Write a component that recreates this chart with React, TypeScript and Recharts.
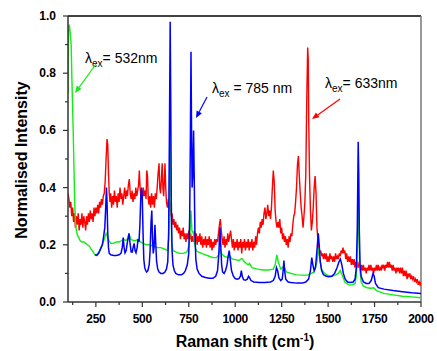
import { LineChart, Line, XAxis, YAxis, ReferenceLine } from 'recharts';

type Pt = [number, number];

// Raman shift (cm-1), intensity
const shiftTicks = [125, 250, 375, 500, 625, 750, 875, 1000, 1125, 1250, 1375, 1500, 1625, 1750, 1875, 2000];
const intensityTicks = [0, 0.1, 0.2, 0.3, 0.4, 0.5, 0.6, 0.7, 0.8, 0.9, 1.0];

const red633: Pt[] = [
  [100, 0.38], [105, 0.36], [110, 0.33], [115, 0.35], [120, 0.3], [125, 0.33], [130, 0.28], [135, 0.31],
  [140, 0.26], [145, 0.3], [150, 0.27], [155, 0.31], [160, 0.25], [165, 0.29], [170, 0.27], [175, 0.31],
  [180, 0.26], [185, 0.3], [190, 0.28], [195, 0.25], [200, 0.3], [205, 0.27], [210, 0.31], [215, 0.28],
  [220, 0.32], [225, 0.29], [230, 0.31], [235, 0.28], [240, 0.33], [245, 0.3], [250, 0.33], [255, 0.31],
  [260, 0.34], [265, 0.31], [270, 0.35], [275, 0.33], [280, 0.36], [285, 0.34], [290, 0.37], [295, 0.38],
  [300, 0.42], [305, 0.5], [310, 0.57], [314, 0.55], [318, 0.45], [322, 0.38], [326, 0.35], [330, 0.38],
  [335, 0.33], [340, 0.37], [345, 0.34], [350, 0.39], [355, 0.35], [360, 0.37], [365, 0.33], [370, 0.38],
  [375, 0.35], [380, 0.4], [385, 0.36], [390, 0.38], [395, 0.34], [400, 0.37], [405, 0.4], [410, 0.36],
  [415, 0.39], [420, 0.37], [425, 0.41], [430, 0.43], [435, 0.38], [440, 0.36], [445, 0.39], [450, 0.35],
  [455, 0.38], [460, 0.36], [465, 0.4], [470, 0.37], [475, 0.39], [480, 0.41], [484, 0.46], [488, 0.4],
  [492, 0.37], [496, 0.39], [500, 0.36], [505, 0.4], [510, 0.37], [515, 0.39], [520, 0.36], [524, 0.46],
  [528, 0.44], [532, 0.36], [536, 0.34], [540, 0.37], [545, 0.33], [550, 0.38], [555, 0.34], [560, 0.37],
  [565, 0.33], [570, 0.38], [575, 0.36], [580, 0.4], [585, 0.45], [590, 0.485], [594, 0.4], [598, 0.38],
  [602, 0.42], [607, 0.485], [611, 0.4], [615, 0.37], [619, 0.43], [622, 0.485], [626, 0.4], [630, 0.35],
  [635, 0.33], [640, 0.36], [645, 0.32], [650, 0.35], [655, 0.3], [660, 0.31], [665, 0.27], [670, 0.29],
  [675, 0.26], [680, 0.28], [685, 0.25], [690, 0.27], [695, 0.24], [700, 0.26], [705, 0.22], [710, 0.25],
  [715, 0.23], [720, 0.26], [725, 0.22], [730, 0.24], [735, 0.21], [740, 0.24], [745, 0.22], [750, 0.25],
  [755, 0.22], [760, 0.24], [765, 0.21], [770, 0.23], [775, 0.21], [780, 0.25], [785, 0.21], [790, 0.24],
  [795, 0.2], [800, 0.23], [805, 0.21], [810, 0.24], [815, 0.2], [820, 0.23], [825, 0.19], [830, 0.22],
  [835, 0.2], [840, 0.23], [845, 0.19], [850, 0.22], [855, 0.2], [860, 0.23], [865, 0.19], [870, 0.22],
  [875, 0.18], [880, 0.21], [885, 0.19], [890, 0.22], [895, 0.2], [900, 0.22], [905, 0.21], [910, 0.24],
  [915, 0.27], [920, 0.29], [925, 0.25], [930, 0.22], [935, 0.2], [940, 0.23], [945, 0.19], [950, 0.22],
  [955, 0.2], [960, 0.24], [965, 0.21], [970, 0.23], [975, 0.25], [980, 0.22], [985, 0.19], [990, 0.22],
  [995, 0.18], [1000, 0.21], [1005, 0.19], [1010, 0.22], [1015, 0.18], [1020, 0.21], [1025, 0.19], [1030, 0.22],
  [1035, 0.17], [1040, 0.21], [1045, 0.19], [1050, 0.22], [1055, 0.18], [1060, 0.21], [1065, 0.19], [1070, 0.22],
  [1075, 0.18], [1080, 0.21], [1085, 0.19], [1090, 0.22], [1095, 0.18], [1100, 0.21], [1105, 0.19], [1110, 0.23],
  [1115, 0.2], [1120, 0.24], [1125, 0.26], [1130, 0.24], [1135, 0.28], [1140, 0.26], [1145, 0.29], [1150, 0.27],
  [1155, 0.31], [1160, 0.33], [1165, 0.29], [1170, 0.31], [1175, 0.34], [1180, 0.3], [1185, 0.32], [1190, 0.29],
  [1195, 0.33], [1200, 0.4], [1205, 0.46], [1210, 0.42], [1215, 0.32], [1220, 0.28], [1225, 0.26], [1230, 0.28],
  [1235, 0.26], [1240, 0.29], [1245, 0.24], [1250, 0.26], [1255, 0.22], [1260, 0.24], [1265, 0.21], [1270, 0.23],
  [1275, 0.2], [1280, 0.22], [1285, 0.19], [1290, 0.23], [1295, 0.21], [1300, 0.24], [1305, 0.23], [1310, 0.27],
  [1315, 0.3], [1320, 0.31], [1325, 0.35], [1330, 0.4], [1335, 0.48], [1340, 0.51], [1345, 0.44], [1350, 0.38],
  [1355, 0.33], [1360, 0.3], [1365, 0.26], [1370, 0.3], [1375, 0.35], [1380, 0.45], [1385, 0.7], [1390, 0.89],
  [1393, 0.85], [1396, 0.62], [1400, 0.44], [1405, 0.32], [1410, 0.25], [1415, 0.28], [1420, 0.33], [1425, 0.4],
  [1430, 0.44], [1435, 0.38], [1440, 0.26], [1445, 0.22], [1450, 0.19], [1455, 0.17], [1460, 0.18], [1465, 0.16],
  [1470, 0.17], [1475, 0.15], [1480, 0.17], [1485, 0.15], [1490, 0.17], [1495, 0.14], [1500, 0.16], [1505, 0.14],
  [1510, 0.17], [1515, 0.15], [1520, 0.16], [1525, 0.14], [1530, 0.16], [1535, 0.14], [1540, 0.17], [1545, 0.15],
  [1550, 0.16], [1555, 0.15], [1560, 0.17], [1565, 0.16], [1570, 0.18], [1575, 0.17], [1580, 0.19], [1585, 0.17],
  [1590, 0.18], [1595, 0.15], [1600, 0.17], [1605, 0.14], [1610, 0.16], [1615, 0.14], [1620, 0.16], [1625, 0.13],
  [1630, 0.15], [1635, 0.13], [1640, 0.15], [1645, 0.12], [1650, 0.14], [1655, 0.12], [1660, 0.14], [1665, 0.12],
  [1670, 0.13], [1675, 0.11], [1680, 0.13], [1685, 0.11], [1690, 0.13], [1695, 0.11], [1700, 0.12], [1705, 0.1],
  [1710, 0.12], [1715, 0.11], [1720, 0.13], [1725, 0.11], [1730, 0.13], [1735, 0.11], [1740, 0.12], [1745, 0.1],
  [1750, 0.12], [1755, 0.11], [1760, 0.13], [1765, 0.11], [1770, 0.13], [1775, 0.11], [1780, 0.12], [1785, 0.11],
  [1790, 0.13], [1795, 0.12], [1800, 0.13], [1805, 0.11], [1810, 0.13], [1815, 0.12], [1820, 0.14], [1825, 0.12],
  [1830, 0.14], [1835, 0.12], [1840, 0.13], [1845, 0.11], [1850, 0.13], [1855, 0.11], [1860, 0.12], [1865, 0.1],
  [1870, 0.12], [1875, 0.11], [1880, 0.12], [1885, 0.1], [1890, 0.12], [1895, 0.1], [1900, 0.12], [1905, 0.09],
  [1910, 0.11], [1915, 0.09], [1920, 0.11], [1925, 0.08], [1930, 0.1], [1935, 0.09], [1940, 0.1], [1945, 0.08],
  [1950, 0.09], [1955, 0.08], [1960, 0.09], [1965, 0.07], [1970, 0.08], [1975, 0.07], [1980, 0.08], [1985, 0.06],
  [1990, 0.07], [1995, 0.06], [2000, 0.07],
];

const blue785: Pt[] = [
  [245, 0.165], [255, 0.163], [265, 0.17], [275, 0.185], [285, 0.2], [292, 0.23], [298, 0.26], [303, 0.33],
  [307, 0.4], [310, 0.35], [314, 0.24], [318, 0.19], [322, 0.17], [330, 0.165], [345, 0.163], [360, 0.163],
  [375, 0.165], [385, 0.17], [392, 0.19], [397, 0.225], [402, 0.19], [407, 0.172], [413, 0.18], [420, 0.21],
  [428, 0.24], [433, 0.21], [440, 0.175], [446, 0.175], [452, 0.195], [456, 0.205], [461, 0.18], [466, 0.172],
  [472, 0.19], [477, 0.22], [482, 0.21], [487, 0.27], [492, 0.37], [496, 0.4], [500, 0.36], [504, 0.24],
  [508, 0.15], [513, 0.12], [518, 0.11], [523, 0.105], [530, 0.11], [537, 0.13], [542, 0.18], [547, 0.28],
  [551, 0.32], [555, 0.22], [559, 0.17], [563, 0.19], [568, 0.27], [572, 0.21], [577, 0.14], [583, 0.115],
  [590, 0.105], [600, 0.1], [612, 0.1], [622, 0.105], [630, 0.115], [637, 0.14], [642, 0.25], [646, 0.6],
  [650, 0.98], [653, 0.7], [656, 0.35], [660, 0.18], [665, 0.13], [672, 0.11], [680, 0.1], [695, 0.095],
  [710, 0.095], [722, 0.1], [732, 0.11], [742, 0.13], [750, 0.17], [755, 0.3], [759, 0.6], [762, 0.875],
  [765, 0.6], [768, 0.4], [772, 0.45], [776, 0.6], [779, 0.45], [783, 0.25], [788, 0.15], [795, 0.115],
  [805, 0.1], [820, 0.09], [840, 0.086], [860, 0.083], [880, 0.083], [895, 0.09], [905, 0.11], [912, 0.17],
  [918, 0.26], [922, 0.2], [927, 0.13], [932, 0.105], [940, 0.1], [948, 0.11], [956, 0.13], [962, 0.16],
  [968, 0.18], [973, 0.15], [980, 0.11], [990, 0.09], [1000, 0.082], [1010, 0.08], [1020, 0.082], [1028, 0.09],
  [1033, 0.11], [1038, 0.09], [1045, 0.078], [1055, 0.076], [1065, 0.08], [1072, 0.09], [1077, 0.085], [1085, 0.075],
  [1100, 0.07], [1130, 0.068], [1160, 0.068], [1190, 0.07], [1205, 0.075], [1215, 0.09], [1222, 0.12], [1228, 0.11],
  [1235, 0.085], [1245, 0.075], [1253, 0.08], [1258, 0.11], [1262, 0.145], [1266, 0.11], [1272, 0.08], [1285, 0.07],
  [1300, 0.068], [1330, 0.066], [1360, 0.066], [1380, 0.07], [1395, 0.08], [1405, 0.11], [1412, 0.155], [1418, 0.13],
  [1425, 0.11], [1432, 0.12], [1440, 0.18], [1447, 0.24], [1452, 0.2], [1458, 0.14], [1465, 0.11], [1475, 0.095],
  [1490, 0.09], [1505, 0.088], [1520, 0.09], [1535, 0.1], [1548, 0.12], [1558, 0.14], [1566, 0.15], [1574, 0.13],
  [1582, 0.1], [1592, 0.08], [1605, 0.07], [1620, 0.068], [1635, 0.07], [1645, 0.08], [1652, 0.12], [1657, 0.25],
  [1662, 0.56], [1665, 0.45], [1668, 0.25], [1672, 0.13], [1678, 0.09], [1690, 0.07], [1705, 0.065], [1720, 0.065],
  [1732, 0.075], [1742, 0.1], [1748, 0.09], [1755, 0.065], [1770, 0.05], [1800, 0.045], [1850, 0.04], [1900, 0.036],
  [1950, 0.032], [2000, 0.03],
];

const green532: Pt[] = [
  [100, 0.73], [103, 0.96], [107, 0.97], [112, 0.94], [117, 0.9], [121, 0.78], [124, 0.7], [128, 0.6],
  [132, 0.47], [136, 0.35], [140, 0.28], [145, 0.25], [150, 0.235], [158, 0.225], [165, 0.215], [175, 0.21],
  [185, 0.21], [195, 0.205], [205, 0.2], [215, 0.195], [225, 0.185], [235, 0.175], [245, 0.165], [252, 0.163],
  [260, 0.17], [270, 0.18], [280, 0.195], [290, 0.21], [298, 0.225], [305, 0.24], [312, 0.23], [320, 0.215],
  [330, 0.205], [345, 0.205], [360, 0.21], [375, 0.21], [390, 0.215], [400, 0.22], [410, 0.215], [420, 0.22],
  [430, 0.235], [438, 0.22], [450, 0.215], [465, 0.215], [478, 0.22], [490, 0.21], [505, 0.205], [520, 0.2],
  [540, 0.2], [560, 0.195], [580, 0.19], [600, 0.19], [620, 0.185], [635, 0.18], [642, 0.22], [646, 0.4],
  [650, 0.57], [654, 0.35], [658, 0.21], [665, 0.18], [680, 0.175], [700, 0.17], [720, 0.17], [740, 0.175],
  [752, 0.2], [758, 0.26], [762, 0.32], [767, 0.25], [775, 0.24], [782, 0.2], [790, 0.18], [800, 0.175],
  [820, 0.17], [840, 0.165], [860, 0.16], [880, 0.155], [900, 0.155], [910, 0.165], [918, 0.185], [925, 0.17],
  [940, 0.16], [960, 0.155], [972, 0.16], [985, 0.15], [1000, 0.148], [1020, 0.145], [1036, 0.152], [1050, 0.14],
  [1070, 0.13], [1077, 0.135], [1090, 0.12], [1120, 0.115], [1150, 0.112], [1180, 0.112], [1205, 0.115], [1215, 0.13],
  [1224, 0.165], [1232, 0.14], [1245, 0.115], [1262, 0.125], [1275, 0.105], [1300, 0.1], [1330, 0.095], [1360, 0.094],
  [1390, 0.094], [1410, 0.1], [1425, 0.105], [1440, 0.14], [1447, 0.19], [1455, 0.15], [1465, 0.115], [1480, 0.1],
  [1500, 0.092], [1520, 0.09], [1540, 0.095], [1555, 0.1], [1565, 0.11], [1575, 0.095], [1590, 0.07], [1610, 0.06],
  [1630, 0.06], [1645, 0.065], [1652, 0.09], [1657, 0.18], [1662, 0.35], [1666, 0.25], [1670, 0.12], [1678, 0.07],
  [1690, 0.055], [1710, 0.05], [1730, 0.048], [1745, 0.05], [1760, 0.04], [1800, 0.03], [1850, 0.025], [1900, 0.02],
  [1950, 0.018], [2000, 0.015],
];

const toRows = (pts: Pt[]) => pts.map(([x, y]) => ({ x, y }));

const FONT = 'Arial, "Liberation Sans", sans-serif';
const AXIS = '#333';

const XTick = (props: any) => {
  const { x, y, payload } = props;
  const major = payload.value % 250 === 0;
  return (
    <g>
      <line x1={x} x2={x} y1={y} y2={y + (major ? 5 : 3)} stroke={AXIS} strokeWidth={1.2} />
      {major && (
        <text x={x} y={y + 21} textAnchor="middle" fontSize={12} fontWeight="bold" fontFamily={FONT} fill="#000" letterSpacing={-0.3}>
          {payload.value}
        </text>
      )}
    </g>
  );
};

const YTick = (props: any) => {
  const { x, y, payload } = props;
  const major = Math.round(payload.value * 10) % 2 === 0;
  return (
    <g>
      <line x1={x} x2={x - (major ? 5 : 3)} y1={y} y2={y} stroke={AXIS} strokeWidth={1.2} />
      {major && (
        <text x={x - 12} y={y + 4} textAnchor="end" fontSize={12} fontWeight="bold" fontFamily={FONT} fill="#000">
          {payload.value.toFixed(1)}
        </text>
      )}
    </g>
  );
};

function Arrow({ x1, y1, x2, y2, color }: { x1: number; y1: number; x2: number; y2: number; color: string }) {
  const a = Math.atan2(y2 - y1, x2 - x1);
  const len = 7;
  const w = 3;
  const bx = x2 - len * Math.cos(a);
  const by = y2 - len * Math.sin(a);
  const pts = [
    `${x2},${y2}`,
    `${bx + w * Math.sin(a)},${by - w * Math.cos(a)}`,
    `${bx - w * Math.sin(a)},${by + w * Math.cos(a)}`,
  ].join(' ');
  return (
    <g>
      <line x1={x1} y1={y1} x2={bx} y2={by} stroke={color} strokeWidth={1.2} />
      <polygon points={pts} fill={color} />
    </g>
  );
}

function ExLabel({ x, y, rest }: { x: number; y: number; rest: string }) {
  return (
    <text x={x} y={y} fontSize={14} fontFamily={FONT} fill="#000">
      λ<tspan fontSize={10} dy={4}>ex</tspan>
      <tspan dy={-4}>{rest}</tspan>
    </text>
  );
}

export default function App() {
  return (
    <div style={{ position: 'absolute', left: 0, top: 0, width: 437, height: 351, background: '#fff' }}>
      <LineChart width={437} height={351} margin={{ top: 16, right: 16, bottom: 0, left: 0 }}>
        <XAxis
          type="number"
          dataKey="x"
          domain={[100, 2000]}
          ticks={shiftTicks}
          interval={0}
          height={49}
          tickSize={0}
          tickMargin={0}
          tickLine={false}
          tick={XTick}
          axisLine={{ stroke: AXIS, strokeWidth: 1.5 }}
          allowDataOverflow
        />
        <YAxis
          type="number"
          domain={[0, 1]}
          ticks={intensityTicks}
          interval={0}
          width={68}
          tickSize={0}
          tickMargin={0}
          tickLine={false}
          tick={YTick}
          axisLine={{ stroke: AXIS, strokeWidth: 1.5 }}
          allowDataOverflow
        />
        <ReferenceLine y={1} stroke="#000" strokeWidth={1.5} />
        <ReferenceLine x={2000} stroke="#777" strokeWidth={1.5} />
        <Line data={toRows(red633)} dataKey="y" type="linear" stroke="#ff0000" strokeWidth={1.4} dot={false} isAnimationActive={false} />
        <Line data={toRows(green532)} dataKey="y" type="linear" stroke="#11ee11" strokeWidth={1.4} dot={false} isAnimationActive={false} />
        <Line data={toRows(blue785)} dataKey="y" type="linear" stroke="#0000ff" strokeWidth={1.5} dot={false} isAnimationActive={false} />
      </LineChart>
      <svg width={437} height={351} style={{ position: 'absolute', left: 0, top: 0, pointerEvents: 'none' }}>
        <text transform="translate(27,160) rotate(-90)" textAnchor="middle" fontSize={16} fontWeight="bold" fontFamily={FONT} fill="#000">
          Normalised Intensity
        </text>
        <text x={245} y={347} textAnchor="middle" fontSize={16} fontWeight="bold" fontFamily={FONT} fill="#000">
          Raman shift (cm<tspan fontSize={10} dy={-6}>-1</tspan>
          <tspan dy={6}>)</tspan>
        </text>
        <ExLabel x={85} y={63} rest="= 532nm" />
        <ExLabel x={212} y={93} rest=" = 785 nm" />
        <ExLabel x={325} y={88} rest="= 633nm" />
        <Arrow x1={96} y1={64} x2={75} y2={93} color="#11ee11" />
        <Arrow x1={207} y1={97} x2={196} y2={118} color="#0000ff" />
        <Arrow x1={340} y1={99} x2={312} y2={119} color="#ff0000" />
      </svg>
    </div>
  );
}
